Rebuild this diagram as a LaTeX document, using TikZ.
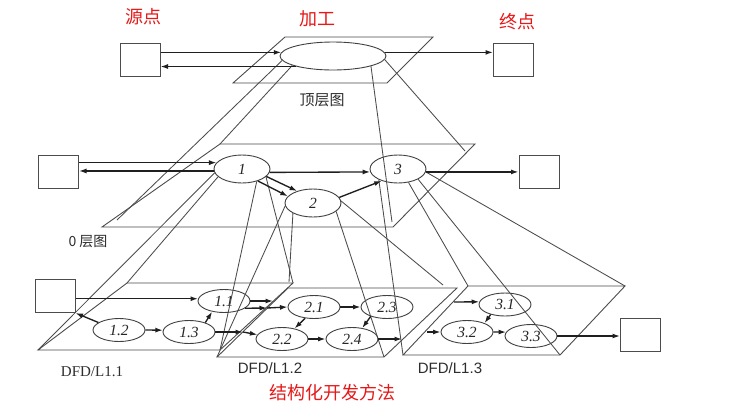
\documentclass[tikz,border=0pt]{standalone}
\usepackage{fontspec}
\setmainfont{Liberation Serif}
\newfontfamily\sansf{Liberation Sans}
\newfontfamily\cjkf{Noto Sans CJK SC}
\usetikzlibrary{shapes.geometric,arrows.meta}
\definecolor{lblred}{RGB}{232,24,24}
\definecolor{lblgray}{RGB}{45,45,45}
\tikzset{
  pl/.style={draw=black!70, line width=0.9pt, line join=miter},
  pj/.style={draw=black!70, line width=0.85pt},
  arr/.style={draw=black!88, line width=1.35pt, -{Latex[length=7.5pt,width=5pt]}},
  boxn/.style={draw=black!70, line width=1pt, minimum width=40pt, minimum height=33pt, inner sep=0pt},
  ell/.style={ellipse, draw=black!75, line width=0.9pt, inner sep=0pt, text=black!85, font=\itshape\fontsize{15.5}{15.5}\selectfont},
  bigell/.style={ell, minimum width=56pt, minimum height=28pt},
  smell/.style={ell, minimum width=52pt, minimum height=23pt},
  redlbl/.style={text=lblred, font=\cjkf\fontsize{18}{20}\selectfont, inner sep=0pt},
  graylbl/.style={text=lblgray, font=\cjkf\fontsize{15}{17}\selectfont, inner sep=0pt},
  dfdlbl/.style={text=lblgray, font=\sansf\fontsize{15}{17}\selectfont, inner sep=0pt}
}
\begin{document}
\begin{tikzpicture}[x=1pt,y=-1pt]
\useasboundingbox (0,0) rectangle (754,405);
\fill[white] (0,0) rectangle (754,405);

% plane corners
\coordinate (tp1) at (285,37); \coordinate (tp2) at (433,37);
\coordinate (tp3) at (387,83); \coordinate (tp4) at (233,83);
\coordinate (z1) at (220,144); \coordinate (z2) at (475,144);
\coordinate (z3) at (393,227); \coordinate (z4) at (102,227);
\coordinate (a1) at (127,283); \coordinate (a2) at (293,283);
\coordinate (a3) at (220,350); \coordinate (a4) at (38,350);
\coordinate (b1) at (288,288); \coordinate (b2) at (457,288);
\coordinate (b3) at (384,357); \coordinate (b4) at (217,357);
\coordinate (c1) at (468,286); \coordinate (c2) at (625,286);
\coordinate (c3) at (560,355); \coordinate (c4) at (403,355);
% projection end points just inside corners
\coordinate (q1) at (117,220); \coordinate (q2) at (392,222);
\coordinate (q3) at (465,151); \coordinate (q4) at (289,282);
\coordinate (q5) at (443,285);
% flow points on plane borders
\coordinate (f1) at (273,301); \coordinate (f2) at (267,308);
\coordinate (f3) at (243,332); \coordinate (f4) at (402,339);
\coordinate (f5) at (454,302); \coordinate (f6) at (427,332);

% planes
\draw[pl] (tp1) -- (tp2) -- (tp3) -- (tp4) -- cycle;
\draw[pl] (z1) -- (z2) -- (z3) -- (z4) -- cycle;
\draw[pl] (a1) -- (a2) -- (a3) -- (a4) -- cycle;
\draw[pl] (b1) -- (b2) -- (b3) -- (b4) -- cycle;
\draw[pl] (c1) -- (c2) -- (c3) -- (c4) -- cycle;

% nodes: top level
\node[boxn] (S) at (140,59.5) {};
\node[boxn] (K) at (513.5,59.5) {};
\node[ell, minimum width=106pt, minimum height=28pt] (T) at (333,56) {};
% level 0
\node[boxn] (B0) at (58.5,171.5) {};
\node[boxn] (K0) at (539,171.5) {};
\node[bigell] (E1) at (242,169) {1};
\node[bigell] (E2) at (313,203) {2};
\node[bigell] (E3) at (398,169) {3};
% level 1
\node[boxn] (B1) at (55,296) {};
\node[boxn] (K1) at (640.5,334.5) {};
\node[smell] (n11) at (224,301) {1.1};
\node[smell] (n12) at (119,330) {1.2};
\node[smell] (n13) at (189,332) {1.3};
\node[smell] (n21) at (314,307) {2.1};
\node[smell] (n22) at (282,339) {2.2};
\node[smell] (n23) at (387,307) {2.3};
\node[smell] (n24) at (352,339) {2.4};
\node[smell] (n31) at (505,304.5) {3.1};
\node[smell] (n32) at (467,332) {3.2};
\node[smell] (n33) at (531,336) {3.3};

% projection lines
\draw[pj] (T.185) -- (q1);
\draw[pj] (T.193) -- (z1);
\draw[pj] (T.-15) -- (q2);
\draw[pj] (T.-4) -- (q3);
\draw[pj] (E1.188) -- (a4);
\draw[pj] (E1.198) -- (a1);
\draw[pj] (E1.-40) -- (a3);
\draw[pj] (E1.-18) -- (a2);
\draw[pj] (E2.186) -- (b4);
\draw[pj] (E2.207) -- (q4);
\draw[pj] (E2.-20) -- (b3);
\draw[pj] (E2.4) -- (q5);
\draw[pj] (E3.209) -- (c4);
\draw[pj] (E3.-52) -- (c1);
\draw[pj] (E3.-27) -- (c3);
\draw[pj] (E3.-6) -- (c2);

% top arrows
\draw[arr] (S.east |- T.176) -- (T.176);
\draw[arr] (T.196) -- (S.east |- T.196);
\draw[arr] (T.4) -- (K.west |- T.4);
% level 0 arrows
\draw[arr] (B0.east |- E1.166) -- (E1.166);
\draw[arr] (E1.184) -- (B0.east |- E1.184);
\draw[arr] (E1.-7) -- (E3.186);
\draw[arr] (E1.-17) -- (E2.143);
\draw[arr] (E1.-37) -- (E2.165);
\draw[arr] (E2.12) -- (E3.216);
\draw[arr] (E3.-6) -- (K0.west |- E3.-6);
% level 1 arrows
\draw[arr] (B1.east |- n11.175) -- (n11.175);
\draw[arr] (n12.160) -- (B1.south east);
\draw[arr] (n12.east) -- (n13.176);
\draw[arr] (n13.30) -- (n11.222);
\draw[arr] (n11.east) -- (f1);
\draw[arr] (n11.-19) -- (f2);
\draw[arr] (f2) -- (n21.west);
\draw[arr] (n13.east) -- (f3);
\draw[arr] (f3) -- (n22.170);
\draw[arr] (n21.east) -- (n23.west);
\draw[arr] (n22.east) -- (n24.west);
\draw[arr] (n21.232) -- (n22.40);
\draw[arr] (n23.210) -- (n24.47);
\draw[arr] (n24.east) -- (f4);
\draw[arr] (f5) -- (n31.174);
\draw[arr] (f6) -- (n32.west);
\draw[arr] (n31.215) -- (n32.27);
\draw[arr] (n32.east) -- (n33.171);
\draw[arr] (n33.east) -- (K1.west |- n33.east);

% labels
\node[redlbl] (lsrc) at (143,17) {源点};
\node[redlbl] (lproc) at (317,19) {加工};
\node[redlbl] (lsink) at (517,22) {终点};
\node[redlbl] (lmeth) at (332,393) {结构化开发方法};
\node[graylbl] (ltop) at (322,100) {顶层图};
\node[graylbl, font=\cjkf\fontsize{14}{16}\selectfont] (lzero) at (88,242) {0 层图};
\node[text=lblgray, font=\fontsize{15}{17}\selectfont, inner sep=0pt] (l11) at (92,372) {DFD/L1.1};
\node[dfdlbl] (l12) at (270,368) {DFD/L1.2};
\node[dfdlbl] (l13) at (450,368) {DFD/L1.3};
\end{tikzpicture}
\end{document}
